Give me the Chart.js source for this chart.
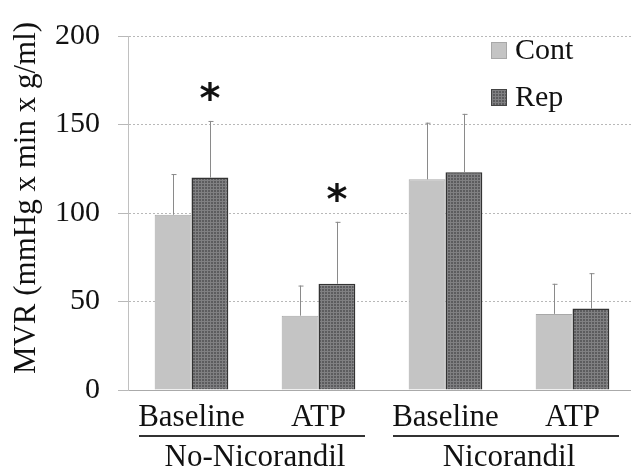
<!DOCTYPE html>
<html>
<head>
<meta charset="utf-8">
<script src="https://cdn.jsdelivr.net/npm/chart.js@4.4.1/dist/chart.umd.min.js"></script>
<style>
    html, body { margin: 0; padding: 0; background: #fff; overflow: hidden; }
    #wrap { width: 640px; height: 471px; }
</style>
</head>
<body>
<div id="wrap"><canvas id="mvrChart"></canvas></div>
<script>
// Données
const categories = ["Baseline", "ATP", "Baseline", "ATP"];
const groups = ["No-Nicorandil", "Nicorandil"];
const contValues = [99, 42, 119, 43];
const contErrors = [23, 17, 32, 17];
const repValues = [120, 60, 123, 46];
const repErrors = [32, 35, 33, 20];
const repSignificant = [true, true, false, false];
const yTicks = [0, 50, 100, 150, 200];
const yTitle = "MVR (mmHg x min x g/ml)";

const serif = "'Liberation Serif', 'Times New Roman', serif";

// Motif tramé pour la série Rep
function makeRepPattern() {
    const c = document.createElement("canvas");
    c.width = 3;
    c.height = 3;
    const g = c.getContext("2d");
    g.fillStyle = "#5c5c5e";
    g.fillRect(0, 0, 3, 3);
    g.fillStyle = "#808082";
    g.fillRect(0, 0, 3, 1);
    g.fillRect(0, 0, 1, 3);
    return g.createPattern(c, "repeat");
}

const repPattern = makeRepPattern();

// Dessine un texte centré sur sa boîte réelle
function fillCentered(ctx, text, cx, cy) {
    const m = ctx.measureText(text);
    const w = m.actualBoundingBoxLeft + m.actualBoundingBoxRight;
    const h = m.actualBoundingBoxAscent + m.actualBoundingBoxDescent;
    ctx.fillText(text, cx - w / 2 + m.actualBoundingBoxLeft, cy - h / 2 + m.actualBoundingBoxAscent);
}

// Barres d'erreur, astérisques, légende, titre et groupes
const extrasPlugin = {
    id: "extras",
    afterDatasetsDraw(chart) {
        const ctx = chart.ctx;
        const y = chart.scales.y;
        const x = chart.scales.x;

        ctx.save();
        ctx.strokeStyle = "#8a8a8a";
        ctx.lineWidth = 1;
        [[0, contValues, contErrors], [1, repValues, repErrors]].forEach(([di, vals, errs]) => {
            const meta = chart.getDatasetMeta(di);
            meta.data.forEach((bar, i) => {
                const px = Math.round(bar.x) + 0.5;
                const top = y.getPixelForValue(vals[i]);
                const end = y.getPixelForValue(vals[i] + errs[i]);
                ctx.beginPath();
                ctx.moveTo(px, top);
                ctx.lineTo(px, end);
                ctx.moveTo(px - 2, end + 0.5);
                ctx.lineTo(px + 3, end + 0.5);
                ctx.stroke();
            });
        });

        // Astérisques
        ctx.fillStyle = "#111";
        ctx.font = "bold 40px 'DejaVu Sans', sans-serif";
        ctx.textAlign = "left";
        ctx.textBaseline = "alphabetic";
        const repMeta = chart.getDatasetMeta(1);
        repSignificant.forEach((sig, i) => {
            if (!sig) return;
            const end = y.getPixelForValue(repValues[i] + repErrors[i]);
            fillCentered(ctx, "*", repMeta.data[i].x, end - 30);
        });

        // Légende
        ctx.font = "30px " + serif;
        ctx.textAlign = "left";
        ctx.textBaseline = "middle";
        const legend = [["Cont", "#c4c4c4", "#a8a8a8"], ["Rep", repPattern, "#444"]];
        legend.forEach(([label, fill, border], k) => {
            const ly = 42 + k * 47;
            ctx.fillStyle = fill;
            ctx.fillRect(491, ly, 16, 17);
            ctx.strokeStyle = border;
            ctx.lineWidth = 1;
            ctx.strokeRect(491.5, ly + 0.5, 15, 16);
            ctx.fillStyle = "#111";
            ctx.fillText(label, 515, ly + 9);
        });

        // Titre de l'axe Y
        ctx.save();
        ctx.translate(27, 198);
        ctx.rotate(-Math.PI / 2);
        ctx.font = "31px " + serif;
        ctx.textAlign = "center";
        ctx.textBaseline = "middle";
        ctx.fillText(yTitle, 0, 0);
        ctx.restore();

        // Groupes sous l'axe
        ctx.strokeStyle = "#333";
        ctx.lineWidth = 2;
        ctx.textAlign = "center";
        ctx.textBaseline = "middle";
        ctx.font = "31px " + serif;
        groups.forEach((name, g) => {
            const mid = (x.getPixelForValue(g * 2) + x.getPixelForValue(g * 2 + 1)) / 2;
            ctx.beginPath();
            ctx.moveTo(mid - 116, 436);
            ctx.lineTo(mid + 110, 436);
            ctx.stroke();
            ctx.fillStyle = "#111";
            ctx.fillText(name, mid, 458);
        });
        ctx.restore();
    }
};

new Chart(document.getElementById("mvrChart"), {
    type: "bar",
    data: {
        labels: categories,
        datasets: [
            {
                label: "Cont",
                data: contValues,
                backgroundColor: "#c4c4c4",
                borderColor: "#a8a8a8",
                borderWidth: 1
            },
            {
                label: "Rep",
                data: repValues,
                backgroundColor: repPattern,
                borderColor: "#333",
                borderWidth: 1.5
            }
        ]
    },
    options: {
        responsive: true,
        maintainAspectRatio: false,
        animation: false,
        layout: { padding: { top: 24, right: 4, left: 0, bottom: 0 } },
        datasets: { bar: { categoryPercentage: 0.58, barPercentage: 1 } },
        plugins: {
            legend: { display: false },
            tooltip: { enabled: false }
        },
        scales: {
            x: {
                afterFit: (scale) => { scale.height = 81; },
                grid: { display: false },
                border: { display: true, color: "#aaa", width: 1 },
                ticks: {
                    color: "#111",
                    padding: 1,
                    font: { family: serif, size: 31 }
                }
            },
            y: {
                min: 0,
                max: 200,
                afterFit: (scale) => { scale.width = 128; },
                afterBuildTicks: (scale) => { scale.ticks = yTicks.map(v => ({ value: v })); },
                grid: {
                    color: "#b8b8b8",
                    lineWidth: 1,
                    tickLength: 10
                },
                border: {
                    display: true,
                    color: "#c0c0c0",
                    dash: (ctx) => (ctx.tick && ctx.tick.value === 0 ? [] : [2, 2])
                },
                ticks: {
                    color: "#111",
                    padding: 18,
                    font: { family: serif, size: 30 }
                },
                title: { display: false }
            }
        }
    },
    plugins: [extrasPlugin]
});
</script>
</body>
</html>
